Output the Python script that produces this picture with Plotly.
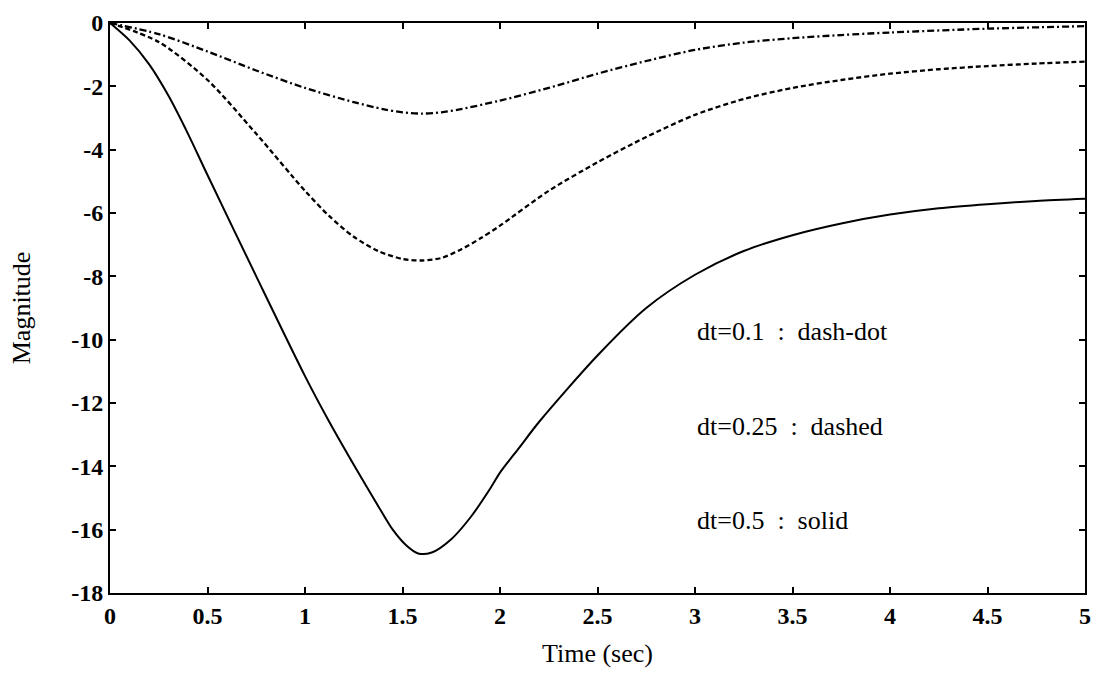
import plotly.graph_objects as go

# Time samples (sec)
t_solid = [0, 0.1, 0.2, 0.3, 0.4, 0.5, 0.75, 1.0, 1.125, 1.25, 1.375, 1.45, 1.52, 1.58, 1.65,
           1.75, 1.85, 1.95, 2.0, 2.1, 2.2, 2.5, 2.75, 3.0, 3.25, 3.5, 3.75, 4.0, 4.25, 4.5,
           4.75, 5.0]
mag_solid = [0, -0.55, -1.3, -2.3, -3.5, -4.8, -8.0, -11.15, -12.6, -13.95, -15.25, -16.0, -16.5,
             -16.75, -16.72, -16.3, -15.6, -14.7, -14.2, -13.4, -12.6, -10.5, -9.0, -7.95, -7.2,
             -6.7, -6.33, -6.05, -5.85, -5.72, -5.62, -5.55]

t_dashed = [0, 0.25, 0.5, 0.75, 1.0, 1.125, 1.25, 1.375, 1.5, 1.6, 1.7, 1.8, 1.9, 2.0, 2.25,
            2.5, 2.75, 3.0, 3.25, 3.5, 3.75, 4.0, 4.25, 4.5, 4.75, 5.0]
mag_dashed = [0, -0.6, -1.8, -3.5, -5.3, -6.1, -6.75, -7.2, -7.45, -7.5, -7.42, -7.15, -6.8,
              -6.4, -5.3, -4.4, -3.6, -2.9, -2.4, -2.05, -1.8, -1.6, -1.46, -1.36, -1.28, -1.22]

t_dashdot = [0, 0.25, 0.5, 0.75, 1.0, 1.25, 1.4, 1.5, 1.6, 1.7, 1.8, 2.0, 2.25, 2.5, 2.75,
             3.0, 3.25, 3.5, 3.75, 4.0, 4.5, 5.0]
mag_dashdot = [0, -0.35, -0.9, -1.5, -2.05, -2.5, -2.72, -2.82, -2.86, -2.82, -2.72, -2.45,
               -2.05, -1.6, -1.2, -0.85, -0.62, -0.48, -0.38, -0.3, -0.18, -0.1]

x_ticks = [0, 0.5, 1, 1.5, 2, 2.5, 3, 3.5, 4, 4.5, 5]
x_ticklabels = ["0", "0.5", "1", "1.5", "2", "2.5", "3", "3.5", "4", "4.5", "5"]
y_ticks = [0, -2, -4, -6, -8, -10, -12, -14, -16, -18]
y_ticklabels = ["0", "-2", "-4", "-6", "-8", "-10", "-12", "-14", "-16", "-18"]

labels = ["dt=0.1  :  dash-dot", "dt=0.25  :  dashed", "dt=0.5  :  solid"]
label_y = [-9.73, -12.73, -15.72]

FONT = "Liberation Serif, Times New Roman, serif"

fig = go.Figure()
fig.add_trace(go.Scatter(x=t_solid, y=mag_solid, mode="lines",
                         line=dict(color="black", width=2, shape="spline", smoothing=0.8)))
fig.add_trace(go.Scatter(x=t_dashed, y=mag_dashed, mode="lines",
                         line=dict(color="black", width=2.3, dash="5px,3px", shape="spline", smoothing=0.8)))
fig.add_trace(go.Scatter(x=t_dashdot, y=mag_dashdot, mode="lines",
                         line=dict(color="black", width=2.3, dash="7px,3px,2px,3px", shape="spline", smoothing=0.8)))

for txt, yy in zip(labels, label_y):
    fig.add_annotation(x=3.0, y=yy, text=txt, showarrow=False, xanchor="left", yanchor="middle",
                       font=dict(family=FONT, size=26, color="black"))

fig.add_annotation(xref="paper", yref="paper", x=0.5, y=-0.107, text="Time (sec)", showarrow=False,
                   xanchor="center", yanchor="middle", font=dict(family=FONT, size=26, color="black"))
fig.add_annotation(xref="paper", yref="paper", x=-0.091, y=0.5, text="Magnitude", showarrow=False,
                   textangle=-90, xanchor="center", yanchor="middle",
                   font=dict(family=FONT, size=26, color="black"))

axis_common = dict(showgrid=False, zeroline=False, showline=True, linecolor="black", linewidth=2,
                   mirror="ticks", ticks="inside", ticklen=6, tickwidth=1.5, tickcolor="black",
                   tickfont=dict(family=FONT, size=24, color="black", weight="bold"))
fig.update_xaxes(range=[0, 5], tickvals=x_ticks, ticktext=x_ticklabels, **axis_common)
fig.update_yaxes(range=[-18, 0], tickvals=y_ticks, ticktext=y_ticklabels, **axis_common)

fig.update_layout(width=1101, height=684, margin=dict(l=110, r=10, t=15, b=91),
                  paper_bgcolor="white", plot_bgcolor="white", showlegend=False)

fig.write_html("out.html")
